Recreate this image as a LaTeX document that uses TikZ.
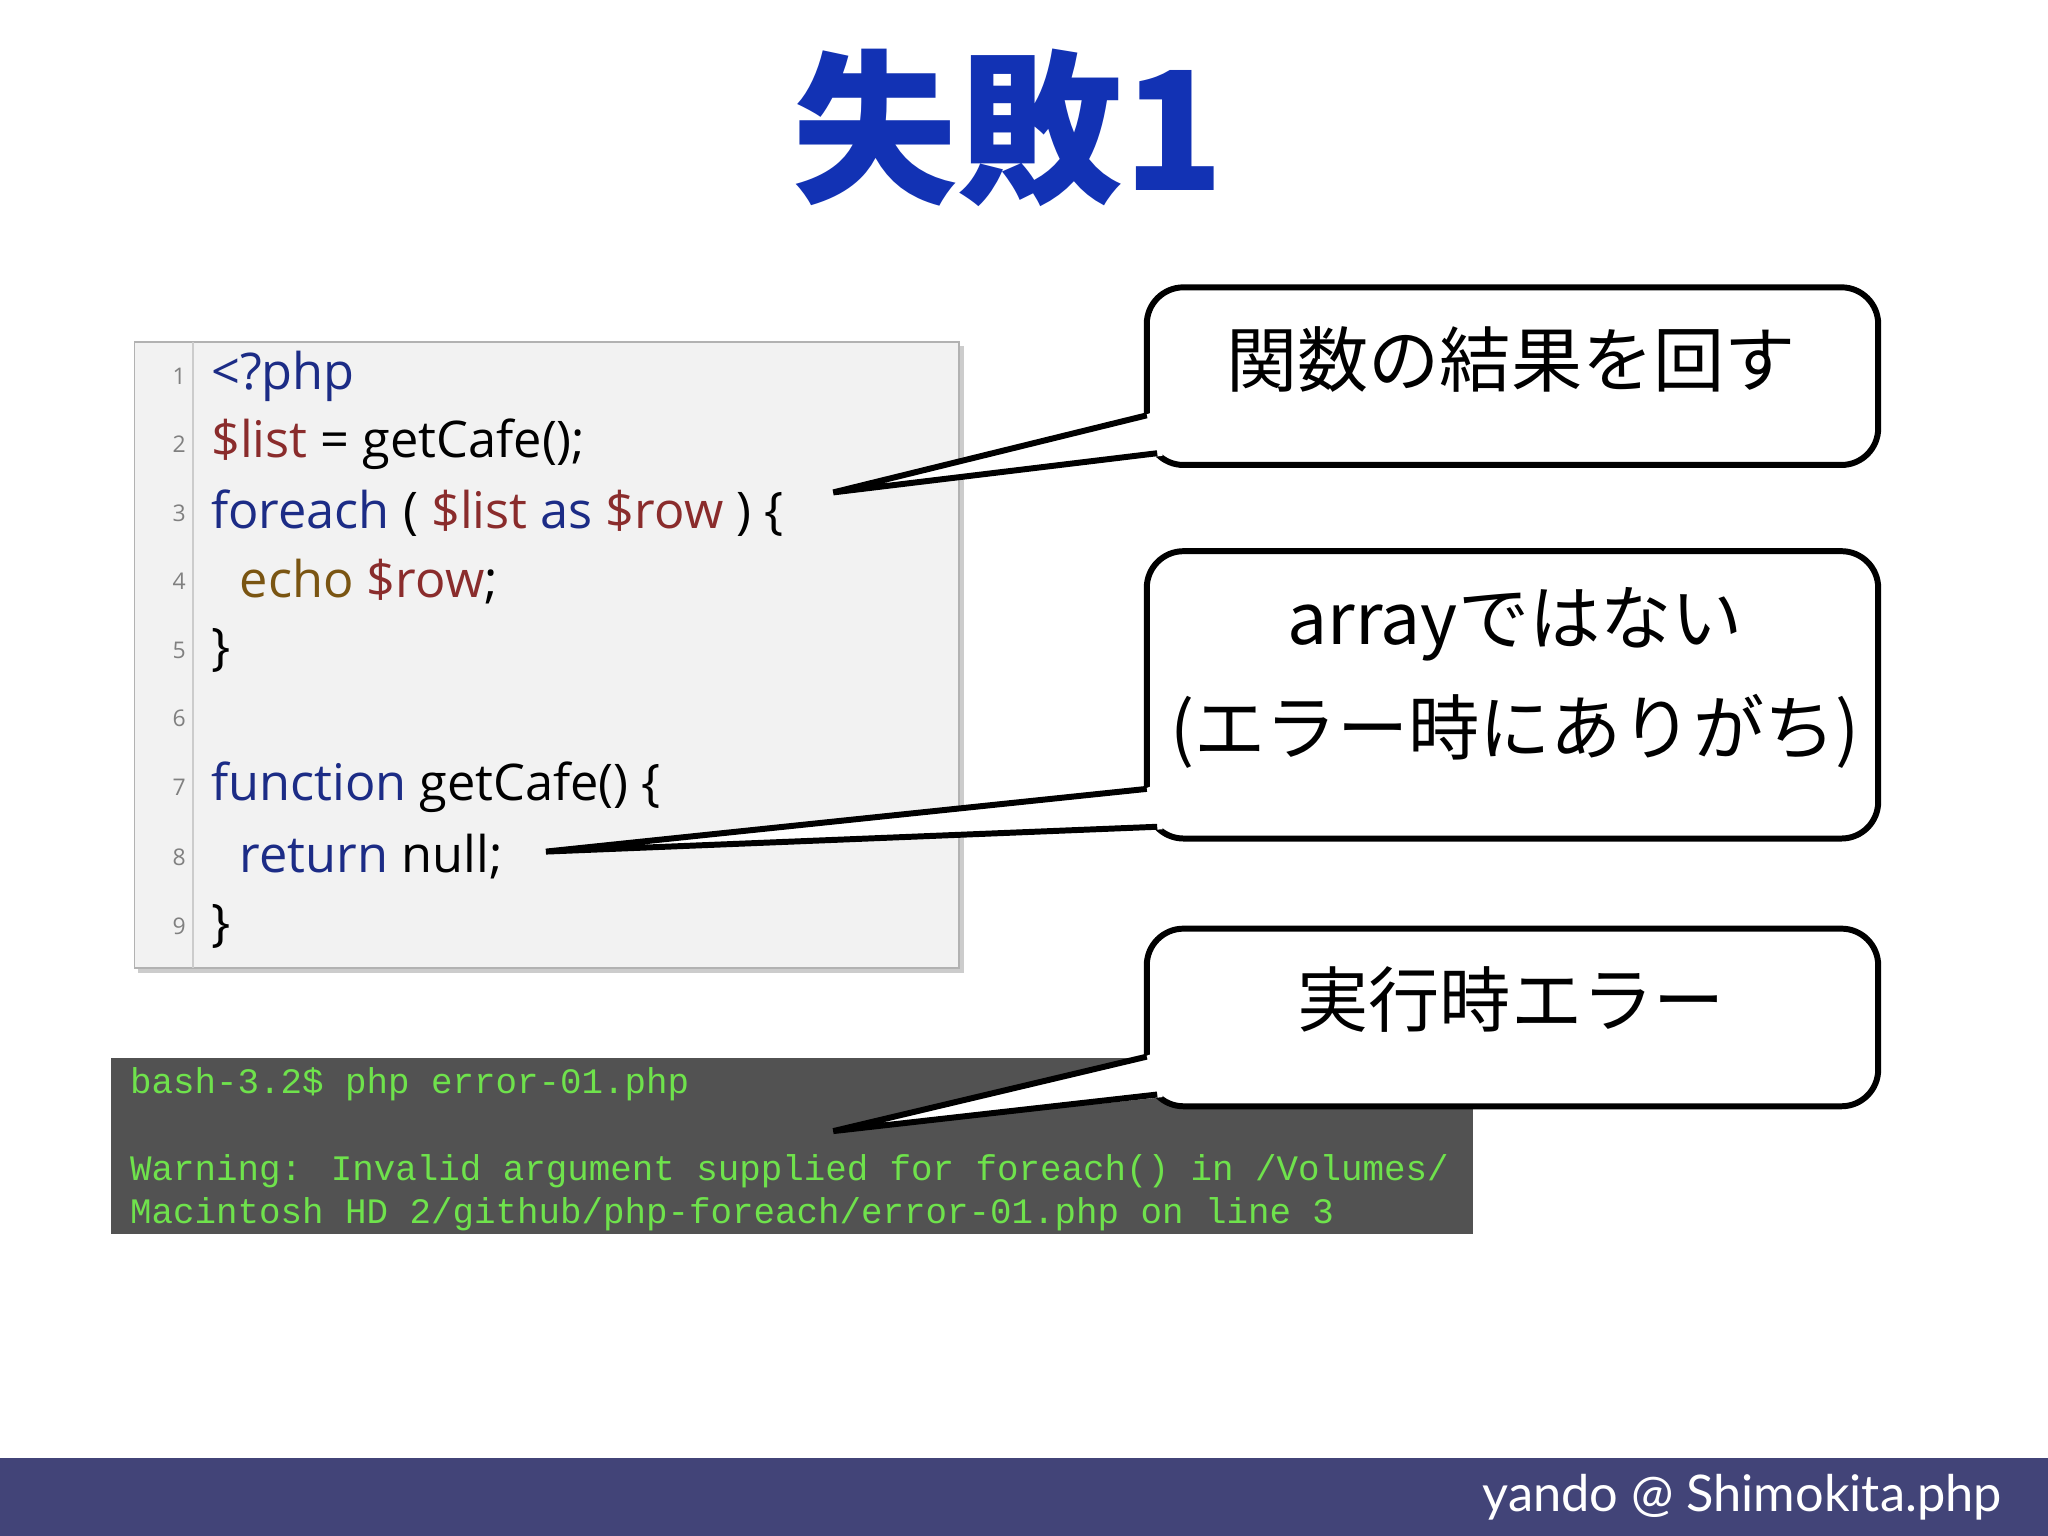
\documentclass[tikz,border=0pt]{standalone}
\usepackage{fontspec}
\setmainfont{Open Sans}
\newfontfamily\jpfont{Noto Sans CJK JP}
\newfontfamily\jpbold{Noto Sans CJK JP Black}
\newfontfamily\codefont{Open Sans}
\newfontfamily\termfont{Liberation Mono}
\newfontfamily\footfont{Lato}
\definecolor{titleblue}{HTML}{1232B4}
\definecolor{kw}{HTML}{1C2C86}
\definecolor{var}{HTML}{8A2C2C}
\definecolor{ech}{HTML}{7A5512}
\definecolor{term}{HTML}{6FE24C}
\definecolor{footbg}{HTML}{424478}
\begin{document}
\begin{tikzpicture}[x=0.01cm,y=-0.01cm,
  code/.style={anchor=west,font=\codefont\fontsize{11}{12}\selectfont,inner sep=0},
  lno/.style={anchor=east,font=\codefont\fontsize{5}{6}\selectfont,text=gray,inner sep=0},
  tline/.style={anchor=west,font=\termfont\fontsize{7.8}{9}\selectfont,text=term,inner sep=0},
  callout/.style={draw=black,line width=1.3pt,fill=white,rounded corners=8pt},
  ctext/.style={font=\jpfont\fontsize{15.5}{18}\selectfont,inner sep=0}]
\useasboundingbox (0,0) rectangle (1568,1176);
\fill[white] (0,0) rectangle (1568,1176);
\node[font=\jpbold\fontsize{36}{40}\selectfont,text=titleblue] (title) at (772,98) {失敗1};
% code box
\fill[gray!40] (106,265) rectangle (738,745);
\draw[gray!60,fill=black!5] (103,262) rectangle (734,741);
\draw[gray!40] (148,262) -- (148,741);
\foreach \n/\y in {1/288,2/340,3/393,4/445,5/498,6/550,7/603,8/656,9/709}
  \node[lno] (ln\n) at (143,\y) {\n};
\node[code,text=kw] (c1) at (161,288) {<?php};
\node[code] (c2) at (161,340) {\textcolor{var}{\$list} = getCafe();};
\node[code] (c3) at (161,393) {\textcolor{kw}{foreach} ( \textcolor{var}{\$list} \textcolor{kw}{as} \textcolor{var}{\$row} ) \{};
\node[code] (c4) at (183,445) {\textcolor{ech}{echo} \textcolor{var}{\$row};};
\node[code] (c5) at (161,498) {\}};
\node[code] (c7) at (161,603) {\textcolor{kw}{function} getCafe() \{};
\node[code] (c8) at (183,656) {\textcolor{kw}{return} null;};
\node[code] (c9) at (161,709) {\}};
% terminal
\fill[black!68] (85,810) rectangle (1128,945);
\node[tline] (t1) at (99,830) {bash-3.2\$ php error-01.php};
\node[tline] (t2) at (99,897) {Warning: Invalid argument supplied for foreach() in /Volumes/};
\node[tline] (t3) at (99,930) {Macintosh HD 2/github/php-foreach/error-01.php on line 3};
% callouts
\coordinate (p1) at (638,377);
\coordinate (p2) at (418,652);
\coordinate (p3) at (638,866);
\foreach \i/\ya/\yb/\pt in {1/220/356/p1,2/422/642/p2,3/711/847/p3}{
  \draw[callout] (878,\ya) rectangle (1438,\yb);
  \fill[white] (876,\yb-38) -- (\pt) -- (890,\yb-7) -- (895,\yb-45) -- cycle;
  \draw[line width=1.3pt,line join=miter] (878,\yb-38) -- (\pt) -- (886,\yb-9);
}
\node[ctext] (b1) at (1157,275) {関数の結果を回す};
\node[ctext] (b2a) at (1160,478) {arrayではない};
\node[ctext] (b2b) at (1160,560) {(エラー時にありがち)};
\node[ctext] (b3) at (1157,765) {実行時エラー};
% footer
\fill[footbg] (0,1116) rectangle (1568,1176);
\node[anchor=east,text=white,font=\footfont\fontsize{11}{13}\selectfont] (foot) at (1545,1146) {yando @ Shimokita.php};
\end{tikzpicture}
\end{document}
